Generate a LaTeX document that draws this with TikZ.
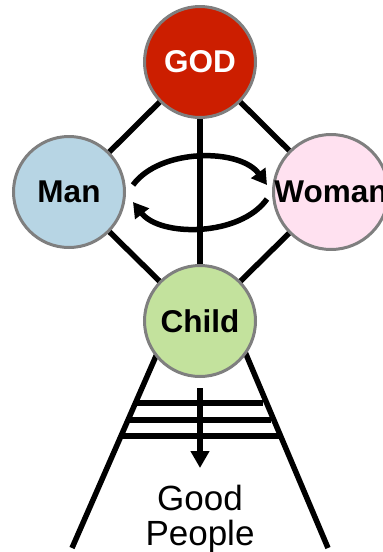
\documentclass[tikz,border=0pt]{standalone}
\usepackage{fontspec}
\setmainfont{Liberation Sans}
\usetikzlibrary{arrows.meta}
\definecolor{godred}{HTML}{CC1E00}
\definecolor{manblue}{HTML}{B7D5E4}
\definecolor{womanpink}{HTML}{FFE1F0}
\definecolor{childgreen}{HTML}{C3E29D}
\definecolor{rimgray}{HTML}{7F7F7F}
\tikzset{
  person/.style={circle, draw=rimgray, line width=3pt, minimum size=111pt, inner sep=0pt,
    font=\fontsize{31.5}{31.5}\selectfont\bfseries},
  link/.style={line width=5.5pt, black},
  bendarrow/.style={line width=5.5pt, black, -{Triangle[length=15pt,width=17pt]}},
}
\begin{document}
\begin{tikzpicture}[x=1pt,y=-1pt]
\clip (0,0) rectangle (383,552);
% coordinates
\coordinate (gc) at (200,62);
\coordinate (mc) at (69,192);
\coordinate (wc) at (331,192);
\coordinate (cc) at (200,321);
\coordinate (lt) at (163,340);
\coordinate (lb) at (72,548);
\coordinate (rt) at (240,340);
\coordinate (rb) at (328,548);
% links behind circles
\draw[link] (gc) -- (mc);
\draw[link] (gc) -- (wc);
\draw[link] (gc) -- (cc);
\draw[link] (mc) -- (cc);
\draw[link] (wc) -- (cc);
\draw[link] (lt) -- (lb);
\draw[link] (rt) -- (rb);
% circles
\node[person, fill=godred, text=white] (god) at (gc) {GOD};
\node[person, fill=manblue] (man) at (mc) {Man};
\node[person, fill=womanpink] (woman) at (wc) {Woman};
\node[person, fill=childgreen] (child) at (cc) {Child};
% exchange arrows
\coordinate (a1) at (133,185);
\coordinate (a2) at (267,185);
\coordinate (b1) at (267,199);
\coordinate (b2) at (133,202);
\draw[bendarrow] (a1) .. controls (160,148) and (240,148) .. (a2);
\draw[bendarrow] (b1) .. controls (240,237) and (160,237) .. (b2);
% ladder bars
\coordinate (r1l) at (137,403); \coordinate (r1r) at (263,403);
\coordinate (r2l) at (130,420); \coordinate (r2r) at (271,420);
\coordinate (r3l) at (122,436); \coordinate (r3r) at (279,436);
\draw[link] (r1l) -- (r1r);
\draw[link] (r2l) -- (r2r);
\draw[link] (r3l) -- (r3r);
% down arrow and text
\coordinate (ds) at (200,388);
\node[align=center, font=\fontsize{35}{35}\selectfont, inner sep=0pt] (good) at (200,519) {Good\\People};
\coordinate (de) at (200,468);
\draw[line width=5.5pt, -{Triangle[length=17pt,width=18pt]}] (ds) -- (de);
\end{tikzpicture}
\end{document}
